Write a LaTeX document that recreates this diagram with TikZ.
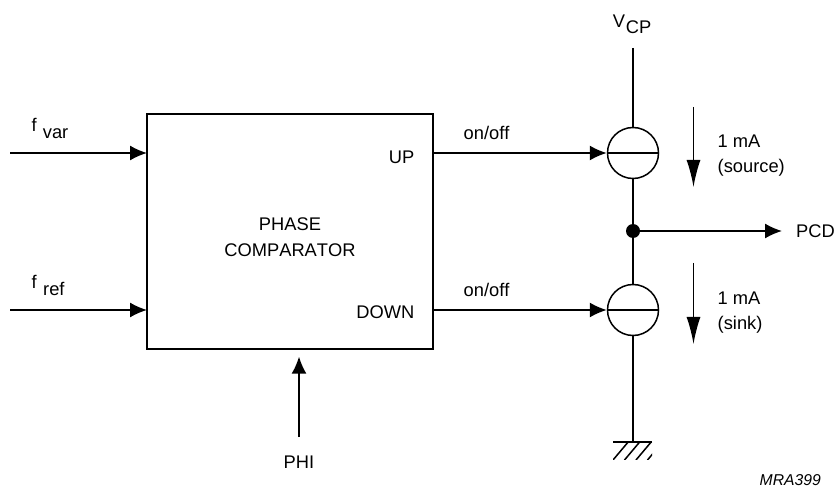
\documentclass[tikz,border=0pt]{standalone}
\usepackage{fontspec}
\setmainfont[Kerning=Off]{Liberation Sans}
\usetikzlibrary{arrows.meta}
\begin{document}
\begin{tikzpicture}[x=1pt, y=-1pt, >={Latex[length=17pt,width=15pt]},
    wire/.style={line width=1.5pt},
    lbl/.style={font=\fontsize{18.3}{22}\selectfont, inner sep=0pt},
    isource/.style={draw, circle, line width=1.5pt, minimum size=51pt, inner sep=0pt},
    longtip/.style={-{Latex[length=27pt,width=14pt]}}]
    \useasboundingbox (0,0) rectangle (836,489);

    % 1. Khung bo so sanh pha
    \node[draw, line width=2.3pt, minimum width=285.5pt, minimum height=235.5pt, inner sep=0pt] (comp) at (290,231.5) {};
    \node[lbl, anchor=base] (phase) at (290,231) {PHASE};
    \node[lbl, anchor=base] (comparator) at (290,256.7) {COMPARATOR};
    \node[lbl, anchor=base east] (up) at (414.5,164) {UP};
    \node[lbl, anchor=base east] (down) at (414.5,319) {DOWN};
    \coordinate (upout) at (433,153);
    \coordinate (downout) at (433,310);

    % 2. Hai nguon dong
    \node[isource] (isrc) at (633,153) {};
    \node[isource] (isnk) at (633,310) {};
    \draw[wire] (isrc.west) -- (isrc.east);
    \draw[wire] (isnk.west) -- (isnk.east);

    % 3. Cac ngo vao ben trai
    \coordinate (varin) at (10,153);
    \coordinate (varend) at (147,153);
    \coordinate (refin) at (10,310);
    \coordinate (refend) at (147,310);
    \draw[->, wire] (varin) -- (varend);
    \draw[->, wire] (refin) -- (refend);
    \node[lbl, anchor=base west] (fvar) at (31.5,131.7) {f};
    \node[lbl, anchor=base west] (var) at (42.7,139) {var};
    \node[lbl, anchor=base west] (fref) at (31.5,289) {f};
    \node[lbl, anchor=base west] (ref) at (43,296) {ref};

    % 4. Ngo vao PHI
    \node[lbl, anchor=base] (phi) at (299,468) {PHI};
    \coordinate (phistart) at (299,437);
    \draw[->, wire] (phistart) -- (299,356.7);

    % 5. Ngo ra on/off
    \draw[->, wire] (upout) -- (isrc.west);
    \draw[->, wire] (downout) -- (isnk.west);
    \node[lbl, anchor=base west] (onup) at (463.5,139.3) {on/off};
    \node[lbl, anchor=base west] (ondown) at (463.5,296.7) {on/off};

    % 6. Nhanh doc VCP, diem noi va PCD
    \node[lbl, anchor=base west] (v) at (612.7,28) {V};
    \node[lbl, anchor=base west] (cp) at (625.7,33.5) {CP};
    \coordinate (vcp) at (633,48);
    \coordinate (gnd) at (633,442);
    \node[circle, fill=black, inner sep=0pt, minimum size=14pt] (junc) at (633,231) {};
    \node[lbl, anchor=base west] (pcd) at (796,238) {PCD};
    \draw[wire] (vcp) -- (isrc.north);
    \draw[wire] (isrc.south) -- (junc);
    \draw[wire] (junc) -- (isnk.north);
    \draw[wire] (isnk.south) -- (gnd);
    \draw[->, wire] (junc) -- (782,231);

    % 7. Ky hieu dat
    \draw[line width=2.3pt] (613,442) -- (652,442);
    \begin{scope}
        \clip (613,442) rectangle (652,459);
        \foreach \i in {0,1,2,3,4} {
            \draw[line width=1.5pt] (613+\i*11.5,460) -- (629+\i*11.5,441);
        }
    \end{scope}

    % 8. Mui ten dong dien 1 mA
    \draw[longtip, wire] (693.5,107) -- (693.5,187);
    \node[lbl, anchor=base west] (isrcval) at (717.5,148) {1 mA};
    \node[lbl, anchor=base west] (isrcname) at (717.5,173) {(source)};
    \draw[longtip, wire] (693.5,263) -- (693.5,344);
    \node[lbl, anchor=base west] (isnkval) at (717.5,305) {1 mA};
    \node[lbl, anchor=base west] (isnkname) at (717.5,330) {(sink)};

    \node[lbl, anchor=base east, font=\fontsize{15.7}{18}\selectfont\itshape] (mra) at (821,485.5) {MRA399};
\end{tikzpicture}
\end{document}
